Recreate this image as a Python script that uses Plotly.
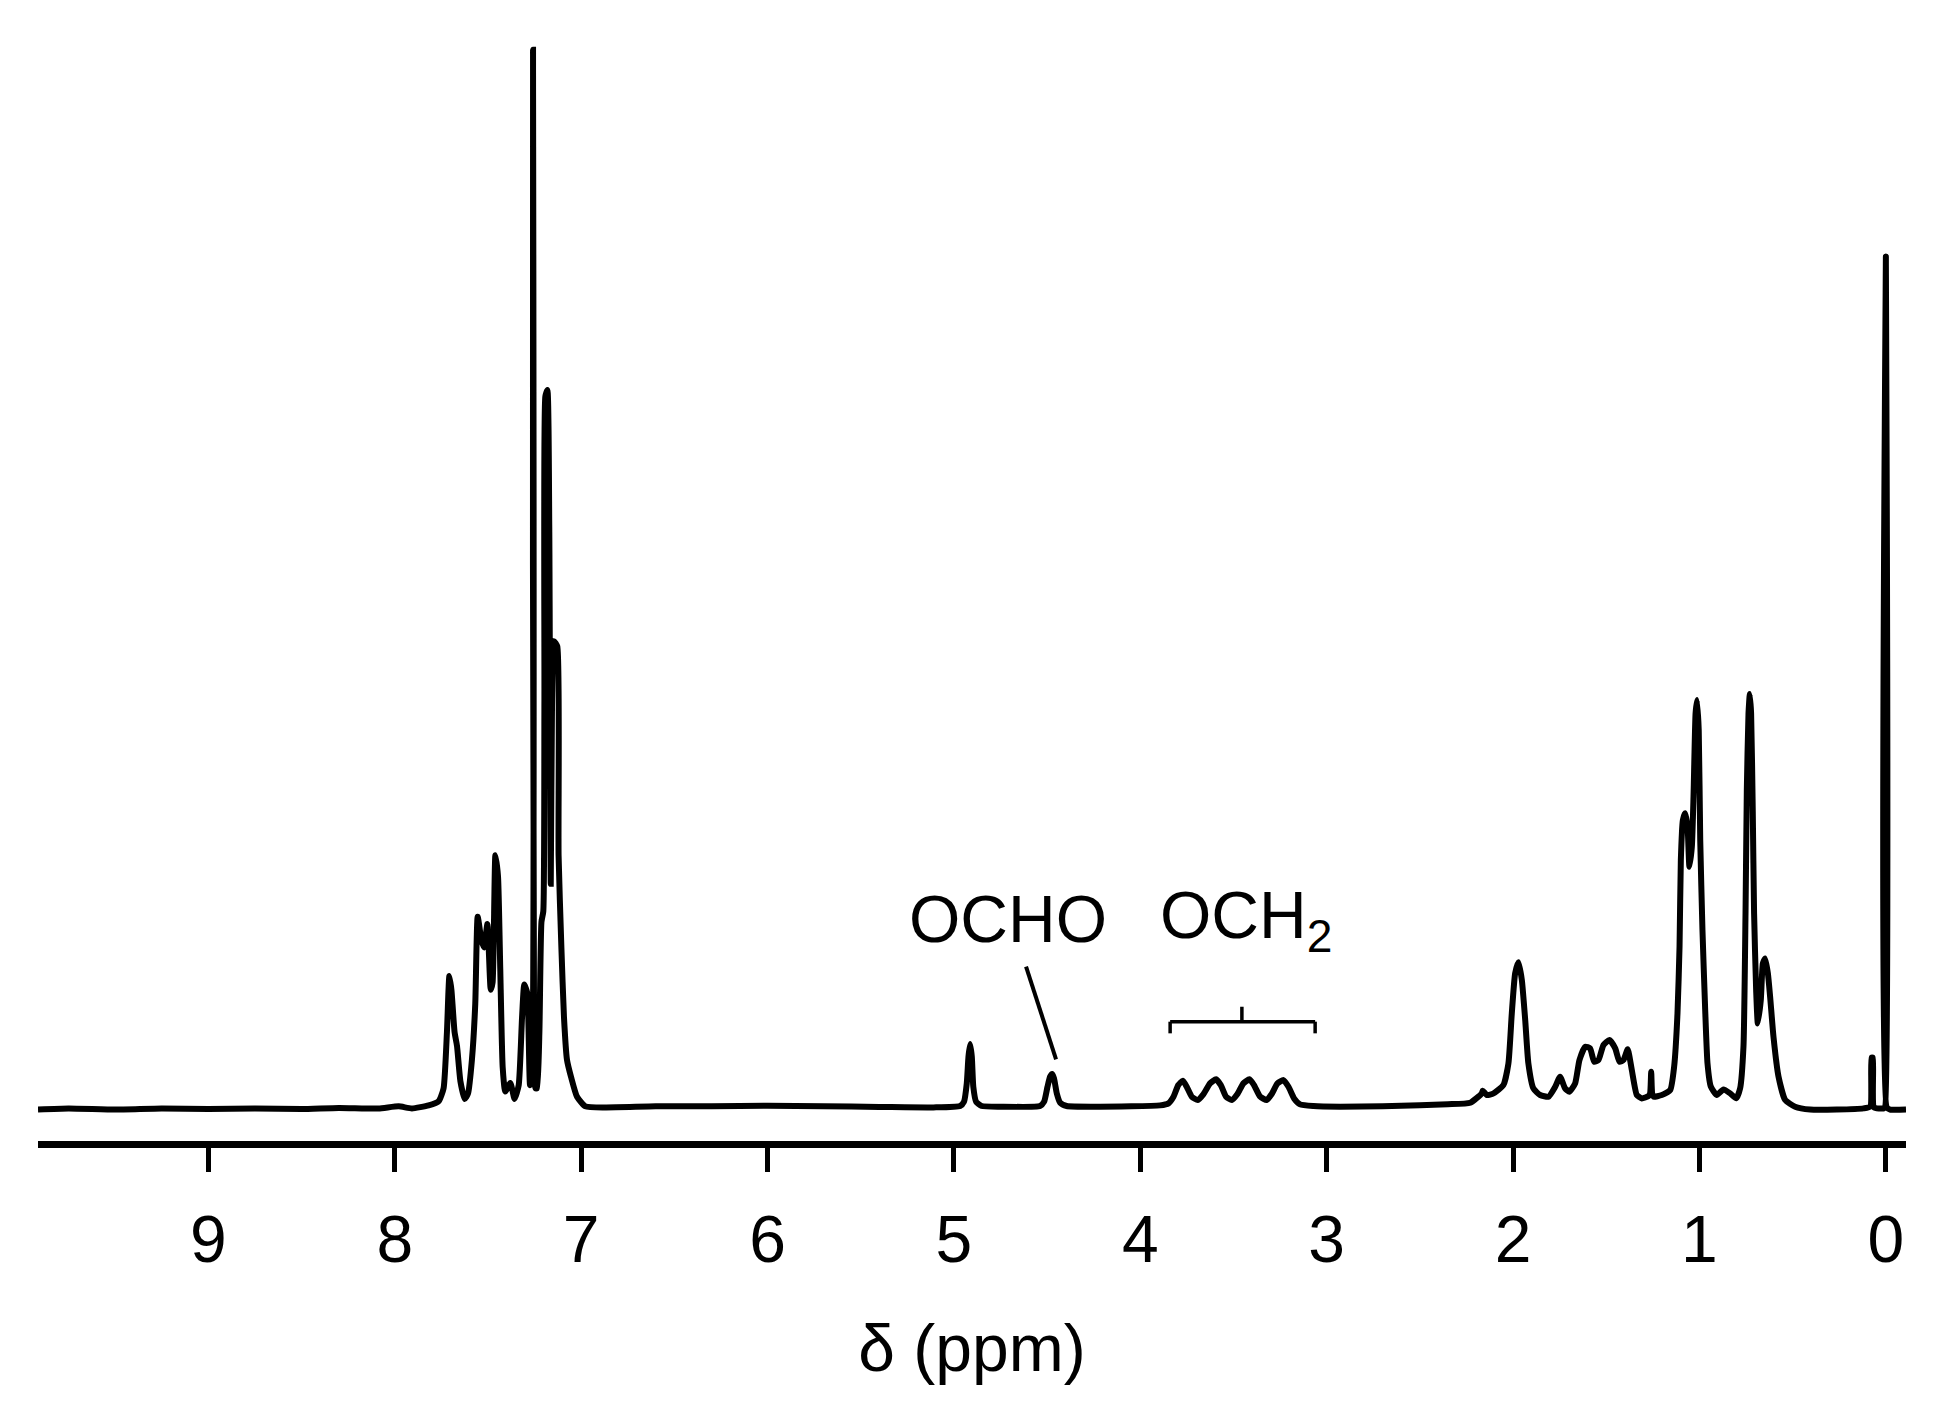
import plotly.graph_objects as go

# 1H NMR spectrum: chemical shift (ppm) and relative intensity
shift_ppm = [
    9.914, 9.75, 9.5, 9.25, 9.0, 8.75, 8.5, 8.3, 8.087, 7.979, 7.908, 7.818, 7.764, 7.738,
    7.720, 7.707, 7.696, 7.679, 7.666, 7.648, 7.625, 7.607, 7.586, 7.568, 7.555, 7.535,
    7.521, 7.503, 7.485, 7.475, 7.460, 7.446, 7.434, 7.421, 7.407, 7.380, 7.357, 7.335,
    7.317, 7.305, 7.289, 7.274, 7.264, 7.258, 7.252, 7.245, 7.237, 7.224, 7.213, 7.203,
    7.197, 7.192, 7.181, 7.171, 7.163, 7.156, 7.146, 7.128, 7.121, 7.106, 7.092, 7.076,
    7.053, 7.022, 6.977, 6.870, 6.6, 6.3, 6.0, 5.7, 5.4, 5.110, 4.967, 4.946, 4.931,
    4.922, 4.913, 4.904, 4.896, 4.881, 4.851, 4.752, 4.538, 4.516, 4.498, 4.484, 4.473,
    4.463, 4.448, 4.430, 4.395, 4.216, 3.894, 3.849, 3.822, 3.796, 3.772, 3.751, 3.724,
    3.692, 3.661, 3.626, 3.594, 3.568, 3.540, 3.509, 3.479, 3.447, 3.415, 3.390, 3.357,
    3.322, 3.295, 3.264, 3.232, 3.205, 3.175, 3.143, 3.071, 2.928, 2.70, 2.50, 2.35,
    2.230, 2.168, 2.163, 2.141, 2.105, 2.052, 2.025, 2.007, 1.989, 1.971, 1.953, 1.935,
    1.918, 1.891, 1.855, 1.810, 1.774, 1.748, 1.721, 1.698, 1.667, 1.644, 1.613, 1.587,
    1.565, 1.542, 1.515, 1.483, 1.452, 1.429, 1.408, 1.385, 1.363, 1.336, 1.309, 1.274,
    1.265, 1.259, 1.254, 1.247, 1.202, 1.157, 1.136, 1.118, 1.107, 1.100, 1.089, 1.077,
    1.064, 1.054, 1.041, 1.032, 1.021, 1.013, 1.004, 0.996, 0.984, 0.970, 0.957, 0.939,
    0.907, 0.871, 0.835, 0.803, 0.782, 0.764, 0.753, 0.746, 0.737, 0.730, 0.723, 0.714,
    0.707, 0.696, 0.687, 0.671, 0.660, 0.648, 0.633, 0.621, 0.603, 0.576, 0.540, 0.487,
    0.406, 0.263, 0.120, 0.084, 0.077, 0.070, 0.063, 0.013, 0.005, 0.0, -0.005, -0.023,
    -0.108,
]
intensity = [
    0.0, 0.1, 0.0, 0.1, 0.05, 0.1, 0.05, 0.15, 0.1, 0.3, 0.1, 0.4, 0.8, 2.0,
    7.3, 12.6, 11.3, 7.3, 6.0, 2.7, 1.0, 1.5, 4.7, 10.0, 18.2, 16.0,
    15.3, 17.5, 11.3, 12.0, 24.0, 22.0, 13.3, 4.0, 1.7, 2.5, 1.0, 2.3,
    8.7, 11.8, 11.0, 2.3, 3.0, 100.0, 3.0, 2.0, 2.0, 7.3, 17.7, 18.7,
    38.7, 67.3, 67.9, 55.0, 21.3, 38.7, 44.2, 43.7, 24.0, 15.3, 8.7, 4.7,
    3.0, 1.2, 0.3, 0.2, 0.3, 0.3, 0.35, 0.3, 0.25, 0.2, 0.33, 0.74, 2.47,
    4.98, 6.18, 4.98, 2.15, 0.74, 0.33, 0.27, 0.33, 0.74, 2.15, 3.10, 3.35,
    2.94, 1.52, 0.64, 0.33, 0.27, 0.39, 0.58, 1.21, 2.31, 2.72, 2.15, 1.21,
    0.90, 1.46, 2.47, 2.85, 2.31, 1.21, 0.90, 1.46, 2.47, 2.85, 2.31, 1.21,
    0.90, 1.46, 2.47, 2.78, 2.15, 1.05, 0.49, 0.33, 0.27, 0.30, 0.40, 0.50,
    0.64, 1.52, 1.78, 1.37, 1.52, 2.31, 4.36, 9.07, 12.85, 13.9, 12.22, 8.44,
    4.36, 1.99, 1.37, 1.21, 2.15, 3.10, 1.99, 1.68, 2.47, 4.67, 5.93, 5.77,
    4.51, 4.67, 6.09, 6.56, 5.77, 4.51, 4.67, 5.68, 3.73, 1.37, 1.05, 1.27,
    1.52, 3.57, 1.52, 1.21, 1.37, 1.84, 4.04, 9.07, 15.37, 23.54, 27.32, 27.95,
    26.69, 22.91, 24.80, 29.52, 37.38, 38.64, 35.81, 25.43, 16.94, 9.70, 4.36, 2.15,
    1.37, 1.90, 1.52, 1.05, 1.99, 5.93, 18.51, 30.15, 37.38, 39.21, 37.38, 27.95,
    18.51, 11.28, 8.13, 10.33, 13.79, 14.26, 12.85, 10.65, 6.87, 3.10, 0.89, 0.27,
    0.0, 0.0, 0.11, 0.27, 4.9, 4.9, 0.2, 0.1, 0.2, 80.5, 0.2, 0.0,
    0.0,
]

tick_values = [9, 8, 7, 6, 5, 4, 3, 2, 1, 0]
tick_labels = ["9", "8", "7", "6", "5", "4", "3", "2", "1", "0"]

FONT = "Liberation Sans, Arial, sans-serif"

fig = go.Figure()
fig.add_trace(go.Scatter(
    x=shift_ppm, y=intensity, mode="lines",
    line=dict(color="black", width=6, shape="spline", smoothing=0.5),
    hoverinfo="skip", showlegend=False,
))

# annotation labels
fig.add_annotation(x=5.250, y=18.0, xref="x", yref="y", text="OCHO", showarrow=False,
                   xanchor="left", yanchor="middle",
                   font=dict(family=FONT, size=66, color="black"))
fig.add_annotation(x=3.905, y=17.85, xref="x", yref="y", text="OCH<sub>2</sub>", showarrow=False,
                   xanchor="left", yanchor="middle",
                   font=dict(family=FONT, size=66, color="black"))

# pointer for OCHO
fig.add_shape(type="line", xref="x", yref="y", x0=4.613, y0=13.48, x1=4.452, y1=4.74,
              line=dict(color="black", width=4))
# bracket for OCH2
bl = dict(color="black", width=3.5)
fig.add_shape(type="line", xref="x", yref="y", x0=3.840, y0=8.29, x1=3.062, y1=8.29, line=bl)
fig.add_shape(type="line", xref="x", yref="y", x0=3.840, y0=8.29, x1=3.840, y1=7.19, line=bl)
fig.add_shape(type="line", xref="x", yref="y", x0=3.062, y0=8.29, x1=3.062, y1=7.19, line=bl)
fig.add_shape(type="line", xref="x", yref="y", x0=3.455, y0=8.29, x1=3.455, y1=9.70, line=bl)

fig.update_layout(
    width=1957, height=1420,
    paper_bgcolor="white", plot_bgcolor="white",
    margin=dict(l=30, r=59, t=32, b=287),
    font=dict(family=FONT, color="black"),
    xaxis=dict(
        range=[9.914, -0.108],
        showline=True, linewidth=7, linecolor="black",
        ticks="outside", ticklen=24, tickwidth=4.5, tickcolor="black",
        tickvals=tick_values, ticktext=tick_labels,
        tickfont=dict(family=FONT, size=66, color="black"),
        ticklabelstandoff=11,
        showgrid=False, zeroline=False,
        title=dict(text="δ (ppm)", font=dict(family=FONT, size=66, color="black"), standoff=52),
    ),
    yaxis=dict(range=[-2.97, 100.93], visible=False, showgrid=False, zeroline=False),
)

fig.write_html("out.html")
